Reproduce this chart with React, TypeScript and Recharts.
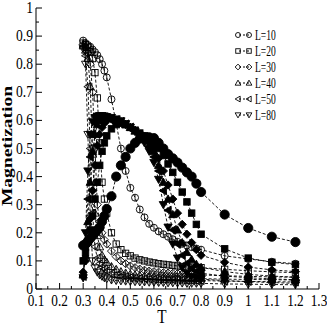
import { Legend, Line, LineChart, XAxis, YAxis } from "recharts";

// temperature grid shared by all curves
const temperatures = [
  0.3, 0.31, 0.32, 0.33, 0.34, 0.35, 0.36, 0.37, 0.38, 0.39, 0.4, 0.42, 0.44, 0.46, 0.48, 0.5, 0.52,
  0.54, 0.56, 0.58, 0.6, 0.62, 0.64, 0.66, 0.68, 0.7, 0.72, 0.74, 0.76, 0.78, 0.8, 0.9, 1.0, 1.1, 1.2,
];

// open symbols (magnetization, falling branch)
const open10 = [
  0.884, 0.875, 0.868, 0.862, 0.852, 0.843, 0.832, 0.818, 0.8, 0.777, 0.753, 0.675, 0.59, 0.5, 0.42,
  0.36, 0.325, 0.283, 0.255, 0.232, 0.218, 0.205, 0.195, 0.186, 0.177, 0.168, 0.161, 0.155, 0.149,
  0.144, 0.14, 0.118, 0.107, 0.097, 0.09,
];
const open20 = [
  0.875, 0.87, 0.86, 0.845, 0.82, 0.77, 0.68, 0.52, 0.38, 0.32, 0.27, 0.2, 0.16, 0.14, 0.127, 0.118,
  0.11, 0.104, 0.1, 0.096, 0.093, 0.09, 0.088, 0.086, 0.084, 0.082, 0.08, 0.079, 0.078, 0.077, 0.076,
  0.07, 0.065, 0.061, 0.058,
];
const open30 = [
  0.87, 0.86, 0.84, 0.8, 0.7, 0.5, 0.3, 0.24, 0.2, 0.175, 0.16, 0.135, 0.115, 0.1, 0.09, 0.082, 0.076,
  0.071, 0.067, 0.064, 0.062, 0.06, 0.058, 0.057, 0.056, 0.055, 0.054, 0.053, 0.052, 0.051, 0.05,
  0.047, 0.045, 0.043, 0.042,
];
const open40 = [
  0.865, 0.85, 0.82, 0.72, 0.48, 0.27, 0.19, 0.15, 0.12, 0.105, 0.095, 0.08, 0.07, 0.062, 0.057, 0.053,
  0.05, 0.048, 0.046, 0.045, 0.044, 0.043, 0.042, 0.041, 0.04, 0.04, 0.039, 0.039, 0.038, 0.038,
  0.037, 0.035, 0.034, 0.033, 0.032,
];
const open50 = [
  0.86, 0.83, 0.72, 0.5, 0.27, 0.15, 0.11, 0.09, 0.078, 0.07, 0.064, 0.055, 0.05, 0.046, 0.043, 0.041,
  0.039, 0.038, 0.037, 0.036, 0.035, 0.034, 0.034, 0.033, 0.033, 0.032, 0.032, 0.031, 0.031, 0.03,
  0.03, 0.028, 0.027, 0.026, 0.025,
];
const open80 = [
  0.855, 0.8, 0.55, 0.25, 0.1, 0.075, 0.06, 0.05, 0.045, 0.04, 0.036, 0.032, 0.03, 0.029, 0.028,
  0.027, 0.026, 0.025, 0.025, 0.024, 0.024, 0.023, 0.023, 0.022, 0.022, 0.021, 0.021, 0.02, 0.02,
  0.02, 0.02, 0.018, 0.017, 0.016, 0.015,
];

// filled symbols (peaked branch)
const filled10 = [
  0.155, 0.16, 0.17, 0.18, 0.19, 0.2, 0.21, 0.22, 0.24, 0.26, 0.285, 0.33, 0.4, 0.44, 0.47, 0.5, 0.52,
  0.535, 0.54, 0.54, 0.537, 0.52, 0.5, 0.48, 0.465, 0.45, 0.432, 0.415, 0.4, 0.375, 0.345, 0.265,
  0.217, 0.186, 0.167,
];
const filled20 = [
  0.1, 0.13, 0.17, 0.21, 0.26, 0.32, 0.38, 0.44, 0.49, 0.52, 0.545, 0.57, 0.585, 0.59, 0.585, 0.575,
  0.565, 0.555, 0.545, 0.535, 0.52, 0.5, 0.475, 0.445, 0.415, 0.38, 0.345, 0.31, 0.27, 0.23, 0.195,
  0.143, 0.11, 0.095, 0.087,
];
const filled30 = [
  0.06, 0.1, 0.16, 0.25, 0.35, 0.44, 0.51, 0.55, 0.575, 0.59, 0.6, 0.605, 0.6, 0.595, 0.585, 0.575,
  0.565, 0.55, 0.54, 0.525, 0.5, 0.465, 0.42, 0.37, 0.32, 0.27, 0.23, 0.195, 0.165, 0.14, 0.12, 0.095,
  0.078, 0.068, 0.062,
];
const filled40 = [
  0.05, 0.12, 0.24, 0.38, 0.49, 0.55, 0.585, 0.6, 0.605, 0.607, 0.607, 0.605, 0.6, 0.595, 0.585,
  0.575, 0.562, 0.548, 0.535, 0.515, 0.49, 0.44, 0.38, 0.32, 0.265, 0.21, 0.165, 0.13, 0.105, 0.088,
  0.077, 0.062, 0.052, 0.046, 0.042,
];
const filled50 = [
  0.045, 0.15, 0.32, 0.47, 0.55, 0.59, 0.605, 0.61, 0.612, 0.612, 0.61, 0.607, 0.602, 0.596, 0.587,
  0.576, 0.562, 0.547, 0.53, 0.505, 0.47, 0.42, 0.35, 0.28, 0.21, 0.16, 0.12, 0.092, 0.074, 0.063,
  0.056, 0.046, 0.04, 0.036, 0.033,
];
const filled80 = [
  0.04, 0.2, 0.42, 0.55, 0.595, 0.61, 0.615, 0.617, 0.617, 0.615, 0.613, 0.61, 0.605, 0.598, 0.588,
  0.575, 0.56, 0.542, 0.52, 0.49, 0.45, 0.39, 0.3, 0.22, 0.16, 0.11, 0.077, 0.056, 0.045, 0.039,
  0.035, 0.03, 0.026, 0.023, 0.02,
];

const sizes = ["L=10", "L=20", "L=30", "L=40", "L=50", "L=80"];
const xMajor = [0.1, 0.2, 0.3, 0.4, 0.5, 0.6, 0.7, 0.8, 0.9, 1.0, 1.1, 1.2, 1.3];
const xMinor = [0.15, 0.25, 0.35, 0.45, 0.55, 0.65, 0.75, 0.85, 0.95, 1.05, 1.15, 1.25];
const yMajor = [0, 0.1, 0.2, 0.3, 0.4, 0.5, 0.6, 0.7, 0.8, 0.9, 1.0];
const yMinor = [0.05, 0.15, 0.25, 0.35, 0.45, 0.55, 0.65, 0.75, 0.85, 0.95];

type Shape = "circle" | "square" | "diamond" | "up" | "left" | "down";
const shapes: Shape[] = ["circle", "square", "diamond", "up", "left", "down"];
const openSets = [open10, open20, open30, open40, open50, open80];
const filledSets = [filled10, filled20, filled30, filled40, filled50, filled80];

const rows = temperatures.map((t, i) => {
  const row: Record<string, number> = { t };
  openSets.forEach((s, k) => (row[`o${k}`] = s[i]));
  filledSets.forEach((s, k) => (row[`f${k}`] = s[i]));
  return row;
});

const series = [
  ...shapes.map((shape, k) => ({ key: `o${k}`, shape, filled: false, r: 3.5 })),
  ...shapes.map((shape, k) => ({ key: `f${k}`, shape, filled: true, r: k === 0 ? 4.6 : 3.6 })),
];

const font = "'Liberation Serif', 'Times New Roman', serif";

function Marker({ cx, cy, shape, filled, r, bar }: { cx: number; cy: number; shape: Shape; filled: boolean; r: number; bar?: boolean }) {
  const fill = filled ? "#000" : "none";
  const common = { fill, stroke: "#000", strokeWidth: 0.9 };
  let body;
  if (shape === "circle") body = <circle cx={cx} cy={cy} r={r} {...common} />;
  else if (shape === "square") body = <rect x={cx - r * 0.9} y={cy - r * 0.9} width={r * 1.8} height={r * 1.8} {...common} />;
  else {
    const q = r * 1.15;
    const pts =
      shape === "diamond"
        ? [[0, -q], [q, 0], [0, q], [-q, 0]]
        : shape === "up"
          ? [[0, -q], [q, q * 0.75], [-q, q * 0.75]]
          : shape === "down"
            ? [[0, q], [q, -q * 0.75], [-q, -q * 0.75]]
            : [[-q, 0], [q * 0.75, -q], [q * 0.75, q]];
    body = <polygon points={pts.map(([a, b]) => `${cx + a},${cy + b}`).join(" ")} {...common} />;
  }
  return (
    <g>
      {body}
      {bar && !filled && <line x1={cx} x2={cx} y1={cy - r} y2={cy + r} stroke="#000" strokeWidth={0.8} />}
    </g>
  );
}

const isMajor = (v: number) => Math.abs(v * 10 - Math.round(v * 10)) < 1e-6;
const fmt = (v: number) => (Math.abs(v) < 1e-9 ? "0" : Math.abs(v - 1) < 1e-9 ? "1" : v.toFixed(1));

function BottomTick({ x, y, payload }: any) {
  const major = isMajor(payload.value);
  return (
    <g>
      <line x1={x} x2={x} y1={y} y2={y - (major ? 6 : 3)} stroke="#000" />
      {major && (
        <text transform={`translate(${x},${y + 17}) scale(0.78,1)`} textAnchor="middle" fontSize={17} fontFamily={font} fill="#000">
          {fmt(payload.value)}
        </text>
      )}
    </g>
  );
}

function TopTick({ x, y, payload }: any) {
  const major = isMajor(payload.value);
  return <line x1={x} x2={x} y1={y} y2={y + (major ? 6 : 3)} stroke="#000" />;
}

function LeftTick({ x, y, payload }: any) {
  const major = isMajor(payload.value);
  return (
    <g>
      <line x1={x} x2={x + (major ? 6 : 3)} y1={y} y2={y} stroke="#000" />
      {major && (
        <text transform={`translate(${x - 3},${y + 5}) scale(0.85,1)`} textAnchor="end" fontSize={16} fontFamily={font} fill="#000">
          {fmt(payload.value)}
        </text>
      )}
    </g>
  );
}

function RightTick({ x, y, payload }: any) {
  const major = isMajor(payload.value);
  return <line x1={x} x2={x - (major ? 6 : 3)} y1={y} y2={y} stroke="#000" />;
}

function LegendBox() {
  return (
    <svg width={60} height={100} style={{ overflow: "visible" }}>
      {sizes.map((name, i) => {
        const y = 9 + i * 16;
        return (
          <g key={name}>
            <line x1={9} x2={19} y1={y} y2={y} stroke="#000" strokeDasharray="2 2" />
            <Marker cx={8} cy={y} shape={shapes[i]} filled={false} r={2.5} />
            <Marker cx={19} cy={y} shape={shapes[i]} filled={false} r={2.5} />
            <text transform={`translate(25,${y + 4.5}) scale(0.68,1)`} fontSize={14} fontFamily={font} fill="#000">
              {name}
            </text>
          </g>
        );
      })}
    </svg>
  );
}

export default function App() {
  const xTicks = [...xMajor, ...xMinor].sort((a, b) => a - b);
  const yTicks = [...yMajor, ...yMinor].sort((a, b) => a - b);
  return (
    <div style={{ position: "absolute", left: 0, top: 0, width: 327, height: 327, background: "#fff" }}>
      <LineChart width={327} height={327} data={rows} margin={{ top: 8, right: 8, bottom: 0, left: 0 }}>
        <XAxis
          dataKey="t"
          type="number"
          domain={[0.1, 1.3]}
          ticks={xTicks}
          interval={0}
          height={38}
          tickSize={0}
          tickMargin={0}
          tickLine={false}
          axisLine={{ stroke: "#000" }}
          tick={<BottomTick />}
          label={{
            content: ({ viewBox }: any) => (
              <text transform={`translate(${viewBox.x + viewBox.width * 0.445},${viewBox.y + 34}) scale(0.8,1)`} textAnchor="middle" fontSize={19} fontFamily={font} fill="#000">
                T
              </text>
            ),
          }}
        />
        <XAxis
          xAxisId="top"
          orientation="top"
          dataKey="t"
          type="number"
          domain={[0.1, 1.3]}
          ticks={xTicks}
          interval={0}
          height={0}
          tickSize={0}
          tickMargin={0}
          tickLine={false}
          axisLine={{ stroke: "#000" }}
          tick={<TopTick />}
        />
        <YAxis
          type="number"
          domain={[0, 1]}
          ticks={yTicks}
          interval={0}
          width={36}
          tickSize={0}
          tickMargin={0}
          tickLine={false}
          axisLine={{ stroke: "#000" }}
          tick={<LeftTick />}
          label={{
            content: () => (
              <text transform="translate(12,146) rotate(-90) scale(1.3,1)" textAnchor="middle" fontSize={15} fontWeight="bold" fontFamily={font} fill="#000">
                Magnetization
              </text>
            ),
          }}
        />
        <YAxis
          yAxisId="right"
          orientation="right"
          type="number"
          domain={[0, 1]}
          ticks={yTicks}
          interval={0}
          width={0}
          tickSize={0}
          tickMargin={0}
          tickLine={false}
          axisLine={{ stroke: "#000" }}
          tick={<RightTick />}
        />
        <Legend
          layout="vertical"
          align="center"
          verticalAlign="middle"
          content={() => <LegendBox />}
          wrapperStyle={{ left: 230, top: 26, width: 60, height: 100 }}
        />
        {series.map((s) => (
          <Line
            key={s.key}
            dataKey={s.key}
            type="linear"
            stroke="#000"
            strokeWidth={0.9}
            strokeDasharray="3 2"
            isAnimationActive={false}
            dot={(p: any) => (
              <Marker key={`${s.key}-${p.index}`} cx={p.cx} cy={p.cy} shape={s.shape} filled={s.filled} r={s.r} bar />
            )}
          />
        ))}
      </LineChart>
    </div>
  );
}
